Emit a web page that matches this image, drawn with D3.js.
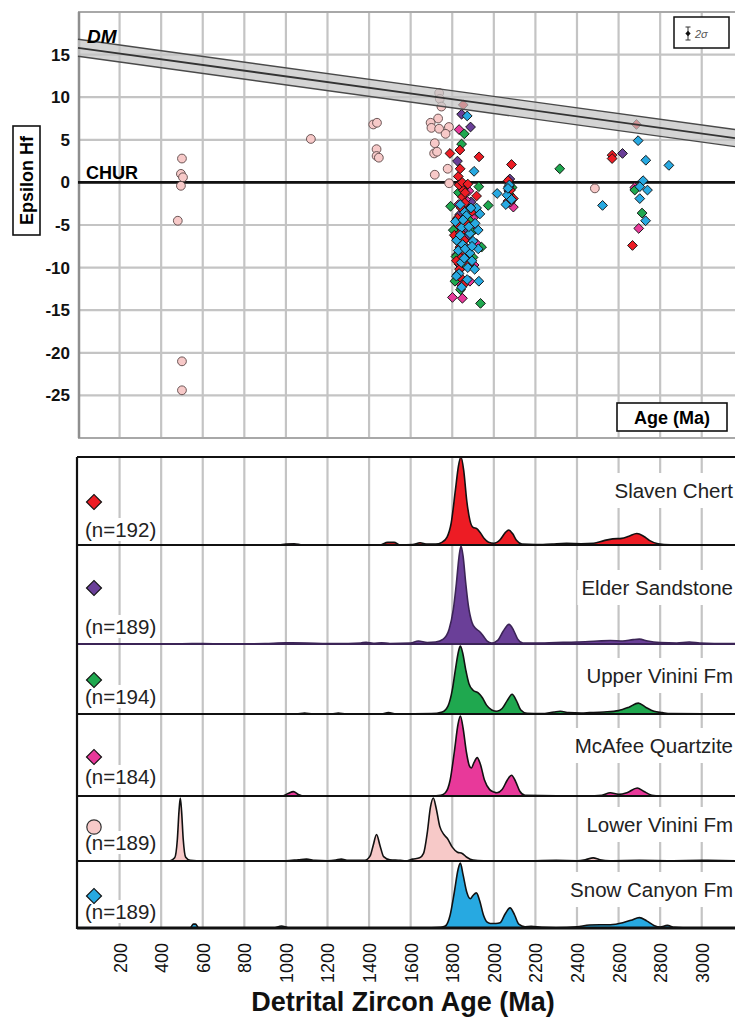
<!DOCTYPE html>
<html>
<head>
<meta charset="utf-8">
<script src="https://cdn.jsdelivr.net/npm/d3@7"></script>
<style>
  body { margin: 0; background: #fff; }
  svg { display: block; font-family: "Liberation Sans", Arial, sans-serif; }
</style>
</head>
<body>
<div id="chart-area"></div>
<script>
const WIDTH = 735
const HEIGHT = 1025
const PLOT = { LEFT: 78, RIGHT: 735, TOP: 12, BOTTOM: 438 }

// tick labels
const ageTicks = [200, 400, 600, 800, 1000, 1200, 1400, 1600, 1800, 2000, 2200, 2400, 2600, 2800, 3000]
const epsTicks = [15, 10, 5, 0, -5, -10, -15, -20, -25]
const epsGrid = [20, 15, 10, 5, 0, -5, -10, -15, -20, -25, -30]

// depleted mantle line (age, epsilon Hf) and its half width
const dmAges = [0, 3160]
const dmEps = [15.8, 5.2]
const dmHalf = 1.0

const sampleNames = ["Slaven Chert", "Elder Sandstone", "Upper Vinini Fm", "McAfee Quartzite", "Lower Vinini Fm", "Snow Canyon Fm"]
const sampleCounts = [192, 189, 194, 184, 189, 189]

// epsilon Hf points [age Ma, eHf]
const slavenHf = [[1853,9.1],[1837,3.8],[1789,3.4],[1929,3.0],[1829,0.7],[2085,2.1],[1849,-1.7],[1917,-1.6],[1853,-0.9],
  [1837,-7.6],[1845,-8.8],[1837,-11.1],[2069,0.2],[2094,-1.9],[2080,-0.9],[2686,6.8],[2569,3.2],[2569,2.8],[2667,-7.4],
  [1833,-0.3],[1860,-2.4],[1825,-4.2],[1870,-4.8],[1810,-6.2],[1880,-9.6],[1895,-3.4],[1840,-5.9],[1820,-9.2],[1855,-12.0],[1862,-1.2],
  [2072,-0.5],[2068,-2.2],[1843,-3.0],[1828,-5.0],[1858,-6.8],[1868,-8.4],[1835,-10.2],[1848,0.0],[1838,1.6],[1875,-0.2]]
const elderHf = [[1845,8.0],[1888,6.5],[1825,2.5],[2077,0.4],[2619,3.4],[1860,-0.6],[1890,-2.3],[1835,-3.8],[1870,-6.5],[1825,-10.8],[1850,-9.9],
  [2072,-1.0],[1855,-5.6],[1880,-3.1],[1842,-7.2]]
const upperVininiHf = [[1858,5.7],[1845,4.5],[1928,-0.5],[2317,1.6],[1792,-2.8],[1973,-2.7],[1805,-5.6],[1941,-7.6],[1813,-11.6],
  [1936,-14.2],[2088,-0.6],[2678,-0.9],[2713,-3.6],[1855,-3.3],[1830,-7.0],[1880,-4.4],[1900,-8.8],
  [2075,-1.4],[1830,-1.2],[1848,-4.8],[1862,-9.6],[1818,-8.7],[1895,-5.8],[1840,-12.6]]
const mcafeeHf = [[1833,6.2],[1917,-7.2],[1833,-9.6],[1885,-11.6],[1801,-13.5],[1849,-13.6],[2094,-2.9],[2697,-5.4],[1865,-2.0],
  [1900,-4.2],[1845,-6.7],[1822,-8.5],[1880,-1.0],[1910,-5.5],[2678,-0.6],
  [2080,-2.3],[1857,-4.6],[1837,-5.4],[1870,-7.7],[1905,-9.7],[1840,-11.9],[1830,-2.6]]
const lowerVininiHf = [[500,2.8],[495,1.0],[505,0.6],[495,-0.4],[480,-4.5],[500,-21.0],[500,-24.4],[1120,5.1],[1420,6.8],[1438,7.0],
  [1436,3.9],[1436,3.1],[1447,2.9],[1737,10.5],[1740,9.8],[1748,8.9],[1732,7.5],[1696,7.0],[1700,6.4],[1737,6.3],[1784,6.5],
  [1768,5.7],[1716,4.6],[1713,3.4],[1727,3.6],[1778,1.6],[1716,0.9],[1785,-0.1],[2486,-0.7]]
const snowCanyonHf = [[1872,7.8],[1905,1.3],[2016,-1.3],[2064,-1.5],[2058,-2.6],[1917,-3.0],[1933,-3.7],[1845,-5.3],[1885,-6.0],
  [1925,-5.6],[1821,-6.8],[1885,-8.3],[1925,-7.8],[1829,-8.0],[1833,-10.7],[1928,-11.6],[2694,4.9],[2731,2.6],[2842,2.0],
  [2718,0.2],[2702,-0.5],[2739,-0.9],[2702,-1.9],[2523,-2.7],[2730,-4.5],[1860,-3.5],[1875,-10.0],[1845,-12.3],[1900,-6.9],
  [1815,-4.6],[2075,-0.3],[1895,-9.2],[1850,-7.3],
  [2068,-0.7],[2085,-2.0],[1838,-2.6],[1868,-3.9],[1852,-4.4],[1880,-5.2],[1910,-4.8],[1838,-6.2],[1862,-7.8],[1895,-7.5],
  [1843,-9.4],[1872,-11.4],[1820,-11.0],[1908,-10.2],[1858,-8.9],[1890,-3.0]]

// relative probability [age Ma, relative density]
const slavenPdp = [[0,0],[960,0],[1000,0.012],[1040,0.015],[1080,0],[1450,0],[1490,0.03],[1520,0.03],[1550,0],[1610,0.005],[1645,0.025],
  [1680,0.01],[1720,0.01],[1750,0.03],[1775,0.09],[1795,0.25],[1815,0.62],[1830,0.9],[1842,1],[1855,0.85],[1870,0.5],[1885,0.28],
  [1900,0.2],[1918,0.185],[1935,0.14],[1955,0.07],[1975,0.03],[2000,0.02],[2030,0.06],[2055,0.14],[2072,0.17],[2090,0.13],[2110,0.05],
  [2135,0.01],[2200,0.005],[2280,0.012],[2350,0.018],[2420,0.015],[2480,0.02],[2530,0.05],[2572,0.07],[2615,0.075],[2650,0.1],
  [2688,0.13],[2720,0.1],[2750,0.05],[2790,0.015],[2850,0.003],[3000,0],[3160,0.003]]
const elderPdp = [[0,0],[500,0.002],[600,0.005],[700,0],[900,0.005],[1000,0.012],[1100,0.01],[1200,0.005],[1300,0.005],[1360,0.01],
  [1386,0.018],[1420,0.008],[1460,0.012],[1500,0.005],[1600,0.01],[1637,0.03],[1680,0.015],[1720,0.02],[1757,0.05],[1785,0.15],
  [1805,0.35],[1820,0.62],[1832,0.88],[1842,1],[1852,0.9],[1865,0.62],[1877,0.4],[1895,0.22],[1912,0.16],[1930,0.13],[1950,0.08],
  [1968,0.03],[1990,0.01],[2020,0.04],[2045,0.13],[2073,0.2],[2095,0.14],[2115,0.05],[2140,0.01],[2200,0.01],[2300,0.015],
  [2400,0.02],[2500,0.03],[2560,0.035],[2620,0.03],[2670,0.045],[2700,0.05],[2740,0.03],[2800,0.015],[2880,0.01],[2940,0.02],
  [2990,0.01],[3060,0.005],[3160,0.005]]
const upperVininiPdp = [[0,0],[1050,0],[1090,0.015],[1130,0],[1220,0],[1252,0.015],[1290,0],[1460,0],[1493,0.02],[1530,0],[1700,0.005],
  [1752,0.03],[1780,0.12],[1800,0.35],[1815,0.65],[1830,0.92],[1839,1],[1850,0.9],[1865,0.65],[1880,0.45],[1900,0.35],[1925,0.31],
  [1945,0.24],[1965,0.13],[1990,0.06],[2015,0.04],[2040,0.08],[2065,0.2],[2088,0.29],[2108,0.2],[2130,0.06],[2160,0.01],[2230,0.005],
  [2290,0.03],[2320,0.04],[2360,0.02],[2420,0.015],[2460,0.02],[2530,0.03],[2600,0.05],[2650,0.1],[2695,0.16],[2730,0.1],
  [2770,0.04],[2810,0.02],[2850,0.005],[3160,0]]
const mcafeePdp = [[0,0],[980,0],[1010,0.03],[1036,0.055],[1060,0.02],[1090,0],[1700,0],[1745,0.01],[1767,0.04],[1790,0.2],[1810,0.55],
  [1828,0.9],[1839,1],[1852,0.85],[1868,0.55],[1882,0.38],[1892,0.35],[1905,0.42],[1920,0.48],[1935,0.4],[1955,0.2],[1980,0.08],
  [2000,0.05],[2015,0.04],[2040,0.08],[2065,0.2],[2085,0.26],[2105,0.18],[2125,0.06],[2150,0.01],[2450,0],[2520,0.01],[2560,0.04],
  [2600,0.02],[2640,0.04],[2690,0.1],[2720,0.06],[2760,0.01],[2800,0],[3160,0]]
const lowerVininiPdp = [[0,0],[440,0],[465,0.05],[478,0.35],[486,0.8],[492,1],[498,0.8],[506,0.35],[518,0.06],[540,0.01],[600,0],
  [900,0],[1000,0.005],[1060,0.02],[1099,0.03],[1140,0.01],[1200,0.005],[1240,0.015],[1266,0.03],[1300,0.01],[1380,0.01],
  [1405,0.08],[1420,0.25],[1436,0.42],[1452,0.25],[1470,0.07],[1500,0.02],[1550,0.01],[1575,0],[1610,0.03],[1643,0.05],[1662,0.12],
  [1680,0.45],[1695,0.85],[1709,1],[1722,0.85],[1740,0.55],[1760,0.42],[1776,0.36],[1800,0.22],[1825,0.14],[1848,0.12],[1870,0.06],
  [1900,0.015],[1950,0.005],[2100,0],[2200,0.005],[2300,0.01],[2400,0.005],[2440,0.02],[2478,0.05],[2510,0.02],[2560,0.005],
  [2700,0.01],[2850,0.005],[3000,0.01],[3160,0.005]]
const snowCanyonPdp = [[0,0],[500,0],[540,0.005],[555,0.06],[565,0.06],[580,0.005],[940,0],[979,0.03],[1010,0.005],[1100,0],
  [1700,0.005],[1745,0.01],[1767,0.03],[1790,0.2],[1810,0.55],[1828,0.9],[1839,1],[1852,0.82],[1870,0.55],[1887,0.45],[1900,0.5],
  [1916,0.54],[1932,0.42],[1950,0.2],[1968,0.09],[1983,0.07],[2010,0.07],[2030,0.08],[2055,0.22],[2078,0.31],[2100,0.2],[2120,0.06],
  [2150,0.02],[2180,0.025],[2230,0.01],[2300,0.005],[2400,0.02],[2460,0.045],[2510,0.05],[2560,0.05],[2620,0.08],[2660,0.12],
  [2700,0.16],[2735,0.11],[2770,0.04],[2800,0.015],[2834,0.04],[2870,0.01],[2950,0],[3160,0]]

const colors = ["#ed1c24", "#6a3f98", "#1fa84f", "#e8399a", "#f7c9c8", "#27a9e1"]
const strokes = ["#111", "#3b2456", "#111", "#111", "#111", "#111"]
const hfSets = [slavenHf, elderHf, upperVininiHf, mcafeeHf, lowerVininiHf, snowCanyonHf]
const pdpSets = [slavenPdp, elderPdp, upperVininiPdp, mcafeePdp, lowerVininiPdp, snowCanyonPdp]

// panel layout (pixels)
const panelBase = [545, 644, 714, 796, 861, 928]
const panelPeak = [457, 546, 646, 716, 798, 863]
const panelLabelY = [498, 595, 683, 753, 832, 897]
const markerY = [502, 588, 680, 757, 827, 896]
const countY = [537, 634, 704, 784, 850, 919]

const svg = d3.select("#chart-area").append("svg")
  .attr("width", WIDTH)
  .attr("height", HEIGHT)

const x = d3.scaleLinear().domain([0, 3160]).range([PLOT.LEFT, PLOT.RIGHT])
const y = d3.scaleLinear().domain([-30, 20]).range([PLOT.BOTTOM, PLOT.TOP])

// ---------- top: epsilon Hf ----------
const topG = svg.append("g")

topG.selectAll(".vgrid").data(ageTicks).enter().append("line")
  .attr("x1", d => x(d)).attr("x2", d => x(d))
  .attr("y1", PLOT.TOP).attr("y2", PLOT.BOTTOM)
  .attr("stroke", "#c4c4c4").attr("stroke-width", 2.2)

topG.selectAll(".hgrid").data(epsGrid).enter().append("line")
  .attr("x1", PLOT.LEFT).attr("x2", PLOT.RIGHT)
  .attr("y1", d => y(d)).attr("y2", d => y(d))
  .attr("stroke", d => (d === 20 || d === -30) ? "#a8a8a8" : "#c4c4c4")
  .attr("stroke-width", 2.2)

topG.append("line")
  .attr("x1", PLOT.LEFT + 1).attr("x2", PLOT.LEFT + 1)
  .attr("y1", PLOT.TOP).attr("y2", PLOT.BOTTOM)
  .attr("stroke", "#8f8f8f").attr("stroke-width", 2.5)

// CHUR
topG.append("line")
  .attr("x1", PLOT.LEFT).attr("x2", PLOT.RIGHT)
  .attr("y1", y(0)).attr("y2", y(0))
  .attr("stroke", "#111").attr("stroke-width", 2.6)

const diamond = d3.symbol().type(d3.symbolSquare).size(48)

// points: pink circles first, then diamonds
topG.selectAll(".lv").data(lowerVininiHf).enter().append("circle")
  .attr("cx", d => x(d[0])).attr("cy", d => y(d[1]))
  .attr("r", 4.4)
  .attr("fill", colors[4]).attr("stroke", "#5a4646").attr("stroke-width", 0.9)

const drawOrder = [1, 3, 2, 0, 5]
drawOrder.forEach(i => {
  topG.selectAll(".s" + i).data(hfSets[i]).enter().append("path")
    .attr("d", diamond)
    .attr("transform", d => `translate(${x(d[0])},${y(d[1])}) rotate(45)`)
    .attr("fill", colors[i])
    .attr("stroke", "#111").attr("stroke-width", 0.9)
})

// DM band
const dm = dmAges.map((a, i) => [a, dmEps[i]])
topG.append("path")
  .datum(dm)
  .attr("d", d3.area().x(d => x(d[0])).y0(d => y(d[1] - dmHalf)).y1(d => y(d[1] + dmHalf)))
  .attr("fill", "#c4c4c4").attr("fill-opacity", 0.72)
;[-dmHalf, 0, dmHalf].forEach(off => {
  topG.append("path")
    .datum(dm)
    .attr("d", d3.line().x(d => x(d[0])).y(d => y(d[1] + off)))
    .attr("fill", "none")
    .attr("stroke", off === 0 ? "#333" : "#4a4a4a")
    .attr("stroke-width", off === 0 ? 1.8 : 1.4)
})

topG.append("text")
  .attr("x", 87).attr("y", 43)
  .attr("font-size", "19px").attr("font-weight", "bold").attr("font-style", "italic")
  .text("DM")

topG.append("text")
  .attr("x", 86).attr("y", 179)
  .attr("font-size", "18px").attr("font-weight", "bold")
  .text("CHUR")

// y axis
const yAxisGroup = topG.append("g")
  .attr("transform", `translate(${PLOT.LEFT}, 0)`)
  .call(d3.axisLeft(y).tickValues(epsTicks).tickSize(0).tickPadding(8).tickFormat(d => String(d)))
yAxisGroup.select(".domain").remove()
yAxisGroup.selectAll("text")
  .attr("font-size", "17px").attr("font-weight", "bold")
  .attr("font-family", "'Liberation Sans', Arial, sans-serif")
  .attr("fill", "#111")

// Y label box
topG.append("rect")
  .attr("x", 13).attr("y", 126).attr("width", 27).attr("height", 109)
  .attr("fill", "#fff").attr("stroke", "#111").attr("stroke-width", 1.6)
topG.append("text")
  .attr("transform", "translate(33, 180.5) rotate(-90)")
  .attr("text-anchor", "middle")
  .attr("font-size", "18px").attr("font-weight", "bold")
  .text("Epsilon Hf")

// Age (Ma) box
topG.append("rect")
  .attr("x", 617).attr("y", 403).attr("width", 110).attr("height", 28)
  .attr("fill", "#fff").attr("stroke", "#111").attr("stroke-width", 1.6)
topG.append("text")
  .attr("x", 672).attr("y", 424)
  .attr("text-anchor", "middle")
  .attr("font-size", "18px").attr("font-weight", "bold")
  .text("Age (Ma)")

// 2 sigma box
topG.append("rect")
  .attr("x", 674).attr("y", 17).attr("width", 55).attr("height", 31)
  .attr("fill", "#fff").attr("stroke", "#111").attr("stroke-width", 1.5)
topG.append("line")
  .attr("x1", 688).attr("x2", 688).attr("y1", 27).attr("y2", 40)
  .attr("stroke", "#333").attr("stroke-width", 1)
;[27, 40].forEach(v => {
  topG.append("line")
    .attr("x1", 685.5).attr("x2", 690.5).attr("y1", v).attr("y2", v)
    .attr("stroke", "#333").attr("stroke-width", 1)
})
topG.append("path")
  .attr("d", d3.symbol().type(d3.symbolSquare).size(14))
  .attr("transform", "translate(688,33.5) rotate(45)")
  .attr("fill", "#111")
topG.append("text")
  .attr("x", 695).attr("y", 37.5)
  .attr("font-size", "11px").attr("font-style", "italic").attr("fill", "#555")
  .text("2σ")

// ---------- bottom: probability plots ----------
const bottomG = svg.append("g")
const PANEL_TOP = 457

bottomG.selectAll(".vgrid").data(ageTicks).enter().append("line")
  .attr("x1", d => x(d)).attr("x2", d => x(d))
  .attr("y1", PANEL_TOP).attr("y2", panelBase[5])
  .attr("stroke", "#c4c4c4").attr("stroke-width", 2.2)

// white boxes behind the labels (cut the grid)
const labelLayer = bottomG.append("g")

pdpSets.forEach((pdp, i) => {
  const yp = d3.scaleLinear().domain([0, 1]).range([panelBase[i], panelPeak[i]])
  const g = bottomG.append("g")

  const label = labelLayer.append("text")
    .attr("x", 733).attr("y", panelLabelY[i])
    .attr("text-anchor", "end")
    .attr("font-size", "20.5px").attr("fill", "#222")
    .text(sampleNames[i])
  const bb = label.node().getBBox()
  labelLayer.insert("rect", "text")
    .attr("x", bb.x - 4).attr("y", bb.y - 6)
    .attr("width", bb.width + 8).attr("height", bb.height + 12)
    .attr("fill", "#fff")

  const count = labelLayer.append("text")
    .attr("x", 85).attr("y", countY[i])
    .attr("font-size", "20.5px").attr("fill", "#222")
    .text(`(n=${sampleCounts[i]})`)
  const cb = count.node().getBBox()
  labelLayer.insert("rect", "text")
    .attr("x", cb.x - 1).attr("y", cb.y)
    .attr("width", cb.width + 2).attr("height", cb.height)
    .attr("fill", "#fff")

  g.append("path")
    .datum(pdp)
    .attr("d", d3.area().x(d => x(d[0])).y0(panelBase[i]).y1(d => yp(d[1])).curve(d3.curveMonotoneX))
    .attr("fill", colors[i])
  g.append("path")
    .datum(pdp)
    .attr("d", d3.line().x(d => x(d[0])).y(d => yp(d[1])).curve(d3.curveMonotoneX))
    .attr("fill", "none")
    .attr("stroke", strokes[i]).attr("stroke-width", 1.6)

  // separator / baseline
  g.append("line")
    .attr("x1", PLOT.LEFT - 1).attr("x2", PLOT.RIGHT)
    .attr("y1", panelBase[i]).attr("y2", panelBase[i])
    .attr("stroke", strokes[i]).attr("stroke-width", i === 5 ? 3 : 1.8)

  // legend marker
  if (i === 4) {
    g.append("circle")
      .attr("cx", 94).attr("cy", markerY[i]).attr("r", 7.2)
      .attr("fill", colors[i]).attr("stroke", "#333").attr("stroke-width", 1.2)
  } else {
    g.append("path")
      .attr("d", d3.symbol().type(d3.symbolSquare).size(112))
      .attr("transform", `translate(94,${markerY[i]}) rotate(45)`)
      .attr("fill", colors[i]).attr("stroke", "#111").attr("stroke-width", 1.2)
  }
})

// frame
bottomG.append("line")
  .attr("x1", PLOT.LEFT - 1).attr("x2", PLOT.RIGHT)
  .attr("y1", PANEL_TOP).attr("y2", PANEL_TOP)
  .attr("stroke", "#111").attr("stroke-width", 2.2)
bottomG.append("line")
  .attr("x1", PLOT.LEFT - 1).attr("x2", PLOT.LEFT - 1)
  .attr("y1", PANEL_TOP).attr("y2", panelBase[5] + 1)
  .attr("stroke", "#111").attr("stroke-width", 2.2)

// x axis
const xAxisGroup = bottomG.append("g")
  .attr("transform", `translate(0, ${panelBase[5]})`)
  .call(d3.axisBottom(x).tickValues(ageTicks).tickSize(0).tickFormat(d3.format("d")))
xAxisGroup.select(".domain").remove()
xAxisGroup.selectAll("text")
  .attr("transform", "rotate(-90)")
  .attr("x", -15).attr("y", 0).attr("dy", "0.36em")
  .attr("text-anchor", "end")
  .attr("font-size", "18px")
  .attr("font-family", "'Liberation Sans', Arial, sans-serif")
  .attr("fill", "#111")

svg.append("text")
  .attr("x", 403).attr("y", 1011)
  .attr("text-anchor", "middle")
  .attr("font-size", "27px").attr("font-weight", "bold").attr("fill", "#111")
  .text("Detrital Zircon Age (Ma)")
</script>
</body>
</html>
